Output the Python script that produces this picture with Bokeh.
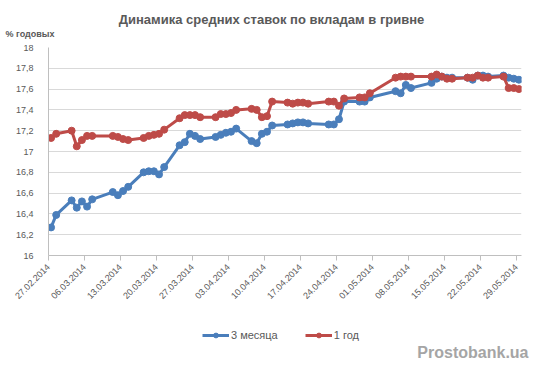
import numpy as np
import pandas as pd
from math import pi
from bokeh.plotting import figure
from bokeh.layouts import column
from bokeh.models import Label, Legend, LegendItem, FixedTicker, ColumnDataSource
from bokeh.embed import file_html
from bokeh.resources import INLINE

# ---------------- data ----------------
dates = [
    "27.02.2014", "28.02.2014",
    "03.03.2014", "04.03.2014", "05.03.2014", "06.03.2014", "07.03.2014",
    "11.03.2014", "12.03.2014", "13.03.2014", "14.03.2014",
    "17.03.2014", "18.03.2014", "19.03.2014", "20.03.2014", "21.03.2014",
    "24.03.2014", "25.03.2014", "26.03.2014", "27.03.2014", "28.03.2014",
    "31.03.2014",
    "01.04.2014", "02.04.2014", "03.04.2014", "04.04.2014",
    "07.04.2014", "08.04.2014", "09.04.2014", "10.04.2014", "11.04.2014",
    "14.04.2014", "15.04.2014", "16.04.2014", "17.04.2014", "18.04.2014",
    "22.04.2014", "23.04.2014", "24.04.2014", "25.04.2014",
    "28.04.2014", "29.04.2014", "30.04.2014",
    "05.05.2014", "06.05.2014", "07.05.2014", "08.05.2014",
    "12.05.2014", "13.05.2014", "14.05.2014", "15.05.2014", "16.05.2014",
    "19.05.2014", "20.05.2014", "21.05.2014", "22.05.2014", "23.05.2014",
    "26.05.2014", "27.05.2014", "28.05.2014", "29.05.2014",
]

rate_3m = [
    16.27, 16.39,
    16.53, 16.46, 16.52, 16.47, 16.54,
    16.61, 16.58, 16.62, 16.66,
    16.80, 16.81, 16.81, 16.78, 16.85,
    17.06, 17.09, 17.17, 17.15, 17.12,
    17.14,
    17.16, 17.18, 17.19, 17.22,
    17.10, 17.08, 17.17, 17.19, 17.25,
    17.26, 17.27, 17.28, 17.28, 17.27,
    17.26, 17.26, 17.31, 17.48,
    17.48, 17.48, 17.52,
    17.58, 17.56, 17.64, 17.61,
    17.66, 17.70, 17.72, 17.71, 17.71,
    17.71, 17.69, 17.73, 17.73, 17.72,
    17.73, 17.71, 17.70, 17.69,
]

rate_1y = [
    17.13, 17.17,
    17.20, 17.05, 17.11, 17.15, 17.15,
    17.15, 17.14, 17.12, 17.11,
    17.13, 17.15, 17.16, 17.17, 17.21,
    17.32, 17.35, 17.35, 17.35, 17.33,
    17.33,
    17.36, 17.36, 17.37, 17.40,
    17.41, 17.40, 17.33, 17.34, 17.48,
    17.47, 17.46, 17.47, 17.47, 17.46,
    17.48, 17.48, 17.44, 17.51,
    17.52, 17.52, 17.56,
    17.71, 17.72, 17.72, 17.72,
    17.72, 17.74, 17.72, 17.70, 17.70,
    17.71, 17.71, 17.73, 17.71, 17.71,
    17.72, 17.61, 17.61, 17.60,
]

x_tick_labels = [
    "27.02.2014", "06.03.2014", "13.03.2014", "20.03.2014", "27.03.2014",
    "03.04.2014", "10.04.2014", "17.04.2014", "24.04.2014", "01.05.2014",
    "08.05.2014", "15.05.2014", "22.05.2014", "29.05.2014",
]

y_ticks = [16, 16.2, 16.4, 16.6, 16.8, 17, 17.2, 17.4, 17.6, 17.8, 18]
y_tick_labels = ["16", "16,2", "16,4", "16,6", "16,8", "17", "17,2", "17,4", "17,6", "17,8", "18"]

series_names = ["3 месяца", "1 год"]
title_text = "Динамика средних ставок по вкладам в гривне"
y_title_text = "% годовых"
watermark_text = "Prostobank.ua"

# ---------------- helpers ----------------
start = pd.to_datetime(dates[0], format="%d.%m.%Y")


def day_offset(s):
    return int((pd.to_datetime(s, format="%d.%m.%Y") - start).days)


# Excel date axis puts points in the middle of the day slot
x_vals = [day_offset(d) + 0.5 for d in dates]
tick_x = [day_offset(d) for d in x_tick_labels]
x_end = tick_x[-1] + 1

src = ColumnDataSource(dict(x=x_vals, m3=rate_3m, y1=rate_1y))

FONT = "Liberation Sans"
TEXT = "#595959"
BLUE = "#4A7EBB"
RED = "#BE4B48"
FIG_W = 534

p = figure(
    frame_width=473, frame_height=208,
    x_range=(0, x_end), y_range=(y_ticks[0], y_ticks[-1]),
    output_backend="svg", toolbar_location=None,
    min_border_left=48, min_border_right=13,
    min_border_top=47, min_border_bottom=52,
    background_fill_color="white", border_fill_color="white",
)
p.outline_line_color = None

# x axis
p.xaxis.ticker = FixedTicker(ticks=tick_x)
p.xaxis.major_label_overrides = {t: lab for t, lab in zip(tick_x, x_tick_labels)}
p.xaxis.major_label_orientation = pi / 4
p.xaxis.major_label_text_font = FONT
p.xaxis.major_label_text_font_size = "9px"
p.xaxis.major_label_text_color = TEXT
p.xaxis.major_label_standoff = 5
p.xaxis.axis_line_color = "#bfbfbf"
p.xaxis.major_tick_line_color = "#bfbfbf"
p.xaxis.major_tick_in = 0
p.xaxis.major_tick_out = 5
p.xaxis.minor_tick_line_color = None

# y axis
p.yaxis.ticker = FixedTicker(ticks=y_ticks)
p.yaxis.major_label_overrides = {t: lab for t, lab in zip(y_ticks, y_tick_labels)}
p.yaxis.major_label_text_font = FONT
p.yaxis.major_label_text_font_size = "9px"
p.yaxis.major_label_text_color = TEXT
p.yaxis.major_label_standoff = 9
p.yaxis.axis_line_color = "#bfbfbf"
p.yaxis.major_tick_line_color = None
p.yaxis.minor_tick_line_color = None

p.xgrid.visible = False
p.ygrid.ticker = FixedTicker(ticks=y_ticks)
p.ygrid.grid_line_color = "#d9d9d9"

# series
p.line("x", "m3", source=src, line_color=BLUE, line_width=3)
p.scatter("x", "m3", source=src, marker="circle", size=7,
          fill_color=BLUE, line_color=BLUE)
p.line("x", "y1", source=src, line_color=RED, line_width=3)
p.scatter("x", "y1", source=src, marker="circle", size=7,
          fill_color=RED, line_color=RED)

# ---- texts above the plot area ----
p.add_layout(Label(x=223, y=28, x_units="screen", y_units="screen",
                   text=title_text, text_align="center", text_baseline="middle",
                   text_font=FONT, text_font_size="13px",
                   text_font_style="bold", text_color=TEXT), "above")
p.add_layout(Label(x=-43, y=-1, x_units="screen", y_units="screen",
                   text=y_title_text, text_align="left", text_baseline="middle",
                   text_font=FONT, text_font_size="9px",
                   text_font_style="bold", text_color=TEXT), "above")

# ---- footer strip: legend + watermark ----
foot = figure(width=FIG_W, height=66, x_range=(0, 1), y_range=(0, 1),
              output_backend="svg", toolbar_location=None,
              x_axis_location=None, y_axis_location=None,
              min_border=0, background_fill_color="white",
              border_fill_color="white")
foot.outline_line_color = None
foot.grid.visible = False

# legend sample renderers (a single NaN point: nothing is drawn in the strip)
sample = ColumnDataSource(dict(x=np.array([np.nan]), y=np.array([np.nan])))
fl1 = foot.line("x", "y", source=sample, line_color=BLUE, line_width=3)
fs1 = foot.scatter("x", "y", source=sample, marker="circle", size=7,
                   fill_color=BLUE, line_color=BLUE)
fl2 = foot.line("x", "y", source=sample, line_color=RED, line_width=3)
fs2 = foot.scatter("x", "y", source=sample, marker="circle", size=7,
                   fill_color=RED, line_color=RED)

legend = Legend(
    items=[LegendItem(label=series_names[0], renderers=[fl1, fs1]),
           LegendItem(label=series_names[1], renderers=[fl2, fs2])],
    orientation="horizontal", location=(154, 32),
    border_line_color=None, background_fill_alpha=0,
    glyph_width=27, glyph_height=12, label_height=12,
    label_standoff=2, spacing=27, padding=0, margin=0,
    label_text_font=FONT, label_text_font_size="11px", label_text_color=TEXT,
)
foot.add_layout(legend)

foot.add_layout(Label(x=480, y=-28, x_units="screen", y_units="screen",
                      text=watermark_text, text_align="right", text_baseline="middle",
                      text_font=FONT, text_font_size="16px",
                      text_font_style="bold", text_color="#a5a5a5"), "above")

page = column(p, foot, spacing=0)
open("out.html", "w").write(file_html(page, INLINE))
